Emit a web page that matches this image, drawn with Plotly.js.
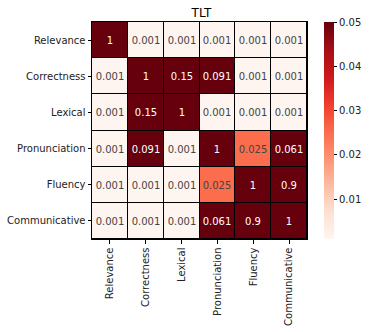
<!DOCTYPE html>
<html><head><meta charset="utf-8">
<script src="https://cdn.plot.ly/plotly-3.0.1.min.js"></script>
<style>body{margin:0;padding:0;background:#fff}#chart{width:373px;height:332px}</style>
</head><body><div id="chart"></div>
<script>
const labels = ["Relevance","Correctness","Lexical","Pronunciation","Fluency","Communicative"];
const row0 = [1, 0.001, 0.001, 0.001, 0.001, 0.001];
const row1 = [0.001, 1, 0.15, 0.091, 0.001, 0.001];
const row2 = [0.001, 0.15, 1, 0.001, 0.001, 0.001];
const row3 = [0.001, 0.091, 0.001, 1, 0.025, 0.061];
const row4 = [0.001, 0.001, 0.001, 0.025, 1, 0.9];
const row5 = [0.001, 0.001, 0.001, 0.061, 0.9, 1];
const colorbarTicks = [0.01, 0.02, 0.03, 0.04, 0.05];

const z = [row0,row1,row2,row3,row4,row5];
const text = z.map(r => r.map(v => String(v)));
const reds = [
 [0.0,"#fff5f0"],[0.125,"#fee0d2"],[0.25,"#fcbba1"],[0.375,"#fc9272"],
 [0.5,"#fb6a4a"],[0.625,"#ef3b2c"],[0.75,"#cb181d"],[0.875,"#a50f15"],[1.0,"#67000d"]
];
const trace = {
  type: "heatmap", x: labels, y: labels, z: z, text: text,
  texttemplate: "%{text}", textfont: {family: "DejaVu Sans", size: 10},
  colorscale: reds, zmin: 0.001, zmax: 0.05, xgap: 1, ygap: 1,
  hoverongaps: false,
  colorbar: {
    x: 1.078, xanchor: "left", xpad: 0, ypad: 0, y: 0.5, yanchor: "middle",
    len: 1, lenmode: "fraction", thickness: 10, outlinewidth: 0,
    tickvals: colorbarTicks, ticktext: colorbarTicks.map(String),
    ticks: "outside", ticklen: 3.5, tickwidth: 1, tickcolor: "#000",
    tickfont: {family: "DejaVu Sans", size: 10, color: "#222"}
  }
};
const layout = {
  width: 373, height: 332,
  margin: {l: 92, r: 63, t: 22, b: 93},
  paper_bgcolor: "#fff", plot_bgcolor: "#000",
  title: {text: "TLT", x: 0.54, xanchor: "center", y: 0.962, yanchor: "middle",
          font: {family: "DejaVu Sans", size: 12, color: "#000"}},
  xaxis: {type: "category", tickangle: -90, ticks: "outside", ticklen: 3.5, tickcolor: "#000",
          tickfont: {family: "DejaVu Sans", size: 10, color: "#222"},
          showline: true, linecolor: "#000", linewidth: 1, mirror: true, showgrid: false, zeroline: false},
  yaxis: {type: "category", autorange: "reversed", ticks: "outside", ticklen: 3.5, tickcolor: "#000",
          tickfont: {family: "DejaVu Sans", size: 10, color: "#222"},
          showline: true, linecolor: "#000", linewidth: 1, mirror: true, showgrid: false, zeroline: false}
};
Plotly.newPlot("chart", [trace], layout, {displayModeBar: false, staticPlot: true});
</script></body></html>
